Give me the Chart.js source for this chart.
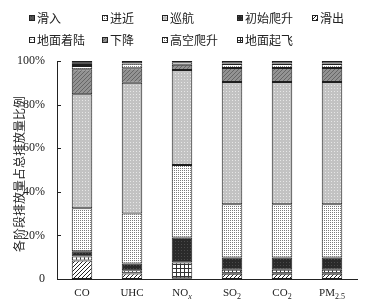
<!DOCTYPE html>
<html>
<head>
<meta charset="utf-8">
<script src="https://cdn.jsdelivr.net/npm/chart.js@4.4.1/dist/chart.umd.min.js"></script>
<style>
html,body{margin:0;padding:0;background:#fff;}
#wrap{width:371px;height:306px;position:relative;}
</style>
</head>
<body>
<div id="wrap"><canvas id="c" width="371" height="306"></canvas></div>
<script>
// ---- data ----
const categories = ['CO', 'UHC', 'NOx', 'SO2', 'CO2', 'PM2.5'];
const xLabelMain = ['CO', 'UHC', 'NO', 'SO', 'CO', 'PM'];
const xLabelSub  = ['', '', 'x', '2', '2', '2.5'];
const yTickValues = [0, 20, 40, 60, 80, 100];
const yTitle = '各阶段排放量占总排放量比例';

// stack order bottom -> top
const taxiOut   = [8.5, 2.5, 0.4, 2.4, 2.4, 2.4];        // 滑出
const takeoff   = [1.8, 1.5, 7.2, 1.8, 1.8, 1.8];        // 地面起飞
const initClimb = [2.4, 3.1, 11.4, 5.7, 5.7, 5.7];       // 初始爬升
const climb     = [19.7, 23.0, 33.3, 24.4, 24.4, 24.4];  // 高空爬升
const cruise    = [52.3, 59.9, 43.6, 56.1, 56.1, 56.1];  // 巡航
const descent   = [11.5, 6.7, 2.4, 6.4, 6.4, 6.4];       // 下降
const approach  = [1.5, 2.0, 1.1, 1.8, 1.8, 1.8];        // 进近
const landing   = [0.5, 0.3, 0.1, 0.3, 0.3, 0.3];        // 地面着陆
const taxiIn    = [1.8, 1.0, 0.5, 1.1, 1.1, 1.1];        // 滑入

const legendOrder = ['滑入', '进近', '巡航', '初始爬升', '滑出', '地面着陆', '下降', '高空爬升', '地面起飞'];

// ---- patterns ----
function pat(size, draw) {
  const c = document.createElement('canvas');
  c.width = c.height = size;
  const g = c.getContext('2d');
  draw(g, size);
  return document.getElementById('c').getContext('2d').createPattern(c, 'repeat');
}
const P = {
  taxiOut: pat(4, (g, s) => { g.fillStyle = '#fff'; g.fillRect(0,0,s,s); g.fillStyle = '#222';
    for (let i = 0; i < s; i++) g.fillRect(i, s-1-i, 1, 1); }),
  takeoff: pat(4, (g, s) => { g.fillStyle = '#fff'; g.fillRect(0,0,s,s); g.fillStyle = '#333';
    g.fillRect(0,0,s,1); g.fillRect(0,0,1,s); }),
  initClimb: pat(3, (g, s) => { g.fillStyle = '#2a2a2a'; g.fillRect(0,0,s,s); g.fillStyle = '#4a4a4a'; g.fillRect(1,1,1,1); }),
  climb: pat(2, (g, s) => { g.fillStyle = '#fff'; g.fillRect(0,0,s,s); g.fillStyle = '#7a7a7a'; g.fillRect(0,0,1,1); }),
  cruise: pat(3, (g, s) => { g.fillStyle = '#c2c2c2'; g.fillRect(0,0,s,s); g.fillStyle = '#e6e6e6'; g.fillRect(1,1,1,1); }),
  descent: pat(4, (g, s) => { g.fillStyle = '#939393'; g.fillRect(0,0,s,s); g.fillStyle = '#666';
    for (let i = 0; i < s; i++) g.fillRect(i, s-1-i, 1, 1); }),
  approach: pat(2, (g, s) => { g.fillStyle = '#fff'; g.fillRect(0,0,s,s); g.fillStyle = '#888'; g.fillRect(0,0,1,1); }),
  landing: pat(3, (g, s) => { g.fillStyle = '#fff'; g.fillRect(0,0,s,s); g.fillStyle = '#999'; g.fillRect(0,0,2,1); }),
  taxiIn: pat(3, (g, s) => { g.fillStyle = '#555'; g.fillRect(0,0,s,s); g.fillStyle = '#3a3a3a'; g.fillRect(1,1,1,1); })
};

function ds(label, data, fill) {
  return { label, data, backgroundColor: fill, borderColor: '#1e1e1e', borderWidth: 1,
           borderSkipped: false, barPercentage: 0.41, categoryPercentage: 1.0 };
}
const datasets = [
  ds('滑出', taxiOut, P.taxiOut),
  ds('地面起飞', takeoff, P.takeoff),
  ds('初始爬升', initClimb, P.initClimb),
  ds('高空爬升', climb, P.climb),
  ds('巡航', cruise, P.cruise),
  ds('下降', descent, P.descent),
  ds('进近', approach, P.approach),
  ds('地面着陆', landing, P.landing),
  ds('滑入', taxiIn, P.taxiIn)
];

const CJK = '"Noto Sans CJK SC", "Noto Sans", sans-serif';
const SERIF = '"Liberation Serif", "DejaVu Serif", serif';

const decor = {
  id: 'decor',
  afterDraw(chart) {
    const ctx = chart.ctx;
    const area = chart.chartArea;
    const ys = chart.scales.y, xs = chart.scales.x;
    ctx.save();
    // inward y ticks
    ctx.strokeStyle = '#222'; ctx.lineWidth = 1;
    yTickValues.forEach(v => {
      const y = Math.round(ys.getPixelForValue(v)) + 0.5;
      ctx.beginPath(); ctx.moveTo(area.left, y); ctx.lineTo(area.left + 4, y); ctx.stroke();
    });
    // y title (rotated)
    ctx.save();
    ctx.translate(19, (area.top + area.bottom) / 2 + 4);
    ctx.rotate(-Math.PI / 2);
    ctx.font = '12px ' + CJK;
    ctx.fillStyle = '#222'; ctx.textAlign = 'center'; ctx.textBaseline = 'middle';
    ctx.fillText(yTitle, 0, 0);
    ctx.restore();
    // x labels with subscripts
    ctx.fillStyle = '#222'; ctx.textBaseline = 'alphabetic';
    categories.forEach((c, i) => {
      const cx = xs.getPixelForValue(i);
      const main = xLabelMain[i], sub = xLabelSub[i];
      ctx.font = '11px ' + SERIF;
      const wm = ctx.measureText(main).width;
      const subFont = (sub === 'x' ? 'italic ' : '') + '8px ' + SERIF;
      ctx.font = subFont;
      const ws = sub ? ctx.measureText(sub).width : 0;
      const x0 = cx - (wm + ws) / 2;
      ctx.font = '11px ' + SERIF;
      ctx.textAlign = 'left';
      ctx.fillText(main, x0, 296);
      if (sub) { ctx.font = subFont; ctx.fillText(sub, x0 + wm, 299); }
    });
    // legend
    const cols = [29, 102, 162, 237, 312];
    const rows = [18, 40];
    ctx.font = '12px ' + CJK;
    ctx.textBaseline = 'middle'; ctx.textAlign = 'left';
    legendOrder.forEach((lab, k) => {
      const d = chart.data.datasets.find(dd => dd.label === lab);
      const x = cols[k % 5], y = rows[Math.floor(k / 5)];
      ctx.fillStyle = d.backgroundColor;
      ctx.fillRect(x, y - 3, 6, 6);
      ctx.strokeStyle = '#222';
      ctx.strokeRect(x + 0.5, y - 2.5, 5, 5);
      ctx.fillStyle = '#222';
      ctx.fillText(lab, x + 8, y);
    });
    ctx.restore();
  }
};

new Chart(document.getElementById('c'), {
  type: 'bar',
  data: { labels: categories, datasets },
  options: {
    responsive: false,
    animation: false,
    layout: { padding: { top: 61, right: 14, left: 0, bottom: 0 } },
    plugins: { legend: { display: false }, tooltip: { enabled: false } },
    scales: {
      x: {
        stacked: true,
        grid: { display: false },
        border: { color: '#222', width: 1 },
        ticks: { display: false },
        afterFit(s) { s.height = 27; }
      },
      y: {
        stacked: true, min: 0, max: 100,
        grid: { display: false },
        border: { color: '#222', width: 1 },
        ticks: {
          stepSize: 20, padding: 4, color: '#222',
          font: { family: SERIF, size: 12 },
          callback: v => (v === 0 ? '0' : v + '%')
        },
        title: { display: false },
        afterFit(s) { s.width = 57; }
      }
    }
  },
  plugins: [decor]
});
</script>
</body>
</html>
